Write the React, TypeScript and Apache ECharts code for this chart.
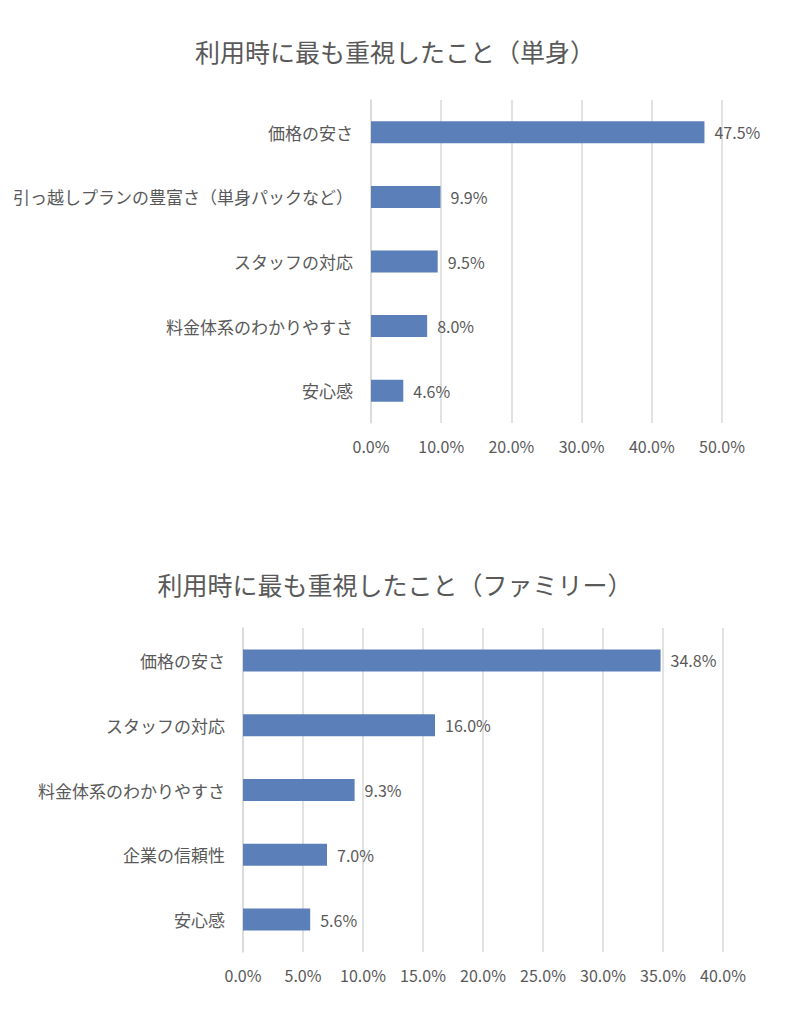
import React, { useEffect, useRef } from "react";
import * as echarts from "echarts";

const singleTitle = "利用時に最も重視したこと（単身）";
const singleCategories = [
  "価格の安さ",
  "引っ越しプランの豊富さ（単身パックなど）",
  "スタッフの対応",
  "料金体系のわかりやすさ",
  "安心感",
];
const singleValues = [47.5, 9.9, 9.5, 8.0, 4.6];
const singleTicks = { min: 0, max: 50, interval: 10 };

const familyTitle = "利用時に最も重視したこと（ファミリー）";
const familyCategories = [
  "価格の安さ",
  "スタッフの対応",
  "料金体系のわかりやすさ",
  "企業の信頼性",
  "安心感",
];
const familyValues = [34.8, 16.0, 9.3, 7.0, 5.6];
const familyTicks = { min: 0, max: 40, interval: 5 };

const FONT = "'Noto Sans CJK JP', 'Noto Sans', sans-serif";
const TEXT = "#595959";
const BAR = "#5a7fb9";
const GRID = "#d9d9d9";

export default function App() {
  const ref = useRef<HTMLDivElement>(null);
  useEffect(() => {
    if (!ref.current) return;
    const chart = echarts.init(ref.current, undefined, { renderer: "svg" });
    const pct = (v: number) => v.toFixed(1) + "%";
    const xAxis = (t: any, gi: number) => ({
      type: "value",
      gridIndex: gi,
      min: t.min,
      max: t.max,
      interval: t.interval,
      axisLine: { show: false },
      axisTick: { show: false },
      splitLine: { show: true, lineStyle: { color: GRID, width: 1.5 } },
      axisLabel: {
        formatter: pct,
        color: TEXT,
        fontSize: 16,
        fontFamily: FONT,
        margin: 15,
      },
    });
    const yAxis = (cats: string[], gi: number) => ({
      type: "category",
      gridIndex: gi,
      data: cats,
      inverse: true,
      axisLine: { show: true, lineStyle: { color: GRID, width: 1.5 } },
      axisTick: { show: false },
      axisLabel: {
        color: TEXT,
        fontSize: 17,
        fontFamily: FONT,
        margin: 18,
      },
    });
    const series = (vals: number[], gi: number) => ({
      type: "bar",
      xAxisIndex: gi,
      yAxisIndex: gi,
      data: vals,
      barWidth: 22,
      itemStyle: { color: BAR },
      label: {
        show: true,
        position: "right",
        distance: 10,
        formatter: (p: any) => pct(p.value),
        color: TEXT,
        fontSize: 16,
        fontFamily: FONT,
      },
    });
    const titleStyle = { color: TEXT, fontSize: 25, fontWeight: "normal", fontFamily: FONT };
    chart.setOption({
      animation: false,
      backgroundColor: "#ffffff",
      title: [
        { text: singleTitle, left: 390, top: 33, textAlign: "center", textStyle: titleStyle },
        { text: familyTitle, left: 390, top: 566, textAlign: "center", textStyle: titleStyle },
      ],
      grid: [
        { left: 371, right: 78, top: 100, height: 323, containLabel: false },
        { left: 243, right: 77, top: 628, height: 324, containLabel: false },
      ],
      xAxis: [xAxis(singleTicks, 0), xAxis(familyTicks, 1)],
      yAxis: [yAxis(singleCategories, 0), yAxis(familyCategories, 1)],
      series: [series(singleValues, 0), series(familyValues, 1)],
    });
    return () => chart.dispose();
  }, []);
  return (
    <div
      ref={ref}
      style={{ position: "fixed", left: 0, top: 0, width: 800, height: 1026 }}
    />
  );
}
